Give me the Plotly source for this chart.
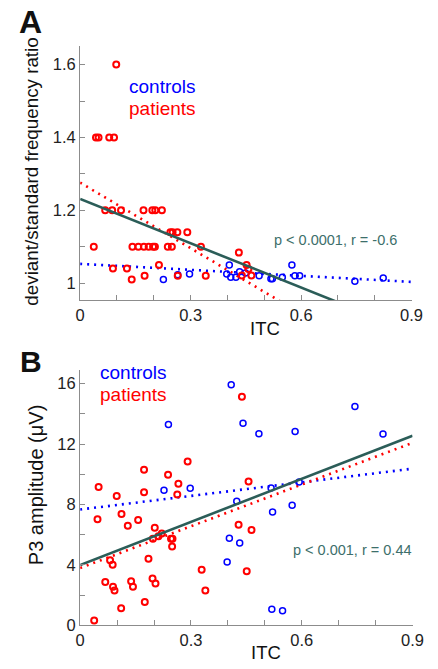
import plotly.graph_objects as go

# ---------------- Panel A data ----------------
ctrl_a_itc = [0.226, 0.265, 0.297, 0.398, 0.405, 0.409, 0.423, 0.433, 0.449, 0.486,
              0.518, 0.522, 0.549, 0.575, 0.583, 0.596, 0.746, 0.823]
ctrl_a_ratio = [1.01, 1.023, 1.025, 1.025, 1.05, 1.016, 1.016, 1.031, 1.028, 1.02,
                1.012, 1.012, 1.016, 1.05, 1.02, 1.02, 1.005, 1.014]

pat_a_itc = [0.098,
             0.043, 0.050, 0.079, 0.092,
             0.068, 0.087, 0.111, 0.172, 0.196, 0.204, 0.222,
             0.245, 0.251, 0.264, 0.291,
             0.037, 0.142, 0.158, 0.173, 0.186, 0.198, 0.203, 0.238, 0.249, 0.328,
             0.089, 0.127, 0.140, 0.175, 0.214, 0.265, 0.341, 0.431, 0.452, 0.457,
             0.439, 0.465]
pat_a_ratio = [1.6,
               1.4, 1.4, 1.4, 1.4,
               1.2, 1.2, 1.2, 1.2, 1.2, 1.2, 1.2,
               1.14, 1.14, 1.14, 1.14,
               1.1, 1.1, 1.1, 1.1, 1.1, 1.1, 1.1, 1.1, 1.1, 1.1,
               1.04, 1.04, 1.01, 1.02, 1.05, 1.02, 1.02, 1.084, 1.05, 1.039,
               1.021, 1.021]

# fit lines (intercept, slope) for panel A
fit_a_all = [1.231, -0.405]
fit_a_pat = [1.276, -0.60]
fit_a_ctrl = [1.053, -0.055]

# ---------------- Panel B data ----------------
ctrl_b_itc = [0.409, 0.239, 0.441, 0.227, 0.298, 0.424, 0.404, 0.432, 0.398, 0.744,
              0.484, 0.582, 0.820, 0.593, 0.517, 0.521, 0.574, 0.519, 0.548]
ctrl_b_p3 = [15.93, 13.29, 13.38, 8.94, 9.07, 8.22, 5.77, 5.46, 4.2, 14.49,
             12.68, 12.83, 12.66, 9.49, 9.1, 7.5, 7.95, 1.07, 0.98]

pat_b_itc = [0.438, 0.291, 0.173, 0.238, 0.456, 0.266, 0.050, 0.173, 0.263, 0.099,
             0.112, 0.047, 0.157, 0.129, 0.202, 0.429, 0.464, 0.221, 0.212, 0.197,
             0.246, 0.250, 0.249, 0.081, 0.088, 0.185, 0.329, 0.451, 0.068, 0.089,
             0.093, 0.138, 0.143, 0.196, 0.204, 0.339, 0.175, 0.111, 0.038]
pat_b_p3 = [15.13, 10.84, 10.3, 9.97, 9.53, 9.38, 9.16, 8.81, 8.66, 8.57,
            7.37, 7.02, 6.97, 6.6, 6.47, 6.67, 6.32, 6.08, 5.9, 5.73,
            5.73, 5.73, 5.23, 4.31, 4.02, 4.41, 3.69, 3.59, 2.87, 2.56,
            2.32, 2.93, 2.56, 3.1, 2.78, 2.32, 1.55, 1.14, 0.33]

fit_b_all = [4.0, 9.5]
fit_b_pat = [3.8, 9.2]
fit_b_ctrl = [7.67, 3.0]

x_ticks = [0, 0.3, 0.6, 0.9]
x_ticktext = ["0", "0.3", "0.6", "0.9"]
ya_ticks = [1.0, 1.2, 1.4, 1.6]
ya_ticktext = ["1", "1.2", "1.4", "1.6"]
yb_ticks = [0, 4, 8, 12, 16]
yb_ticktext = ["0", "4", "8", "12", "16"]

stat_a = "p < 0.0001, r = -0.6"
stat_b = "p < 0.001, r = 0.44"

RED = "#ff0000"
BLUE = "#0000ff"
GREEN = "#2b5d58"
TEXTGREEN = "#3d6f6b"
FONT = "Liberation Sans, Arial, sans-serif"

fit_x = [0.0, 0.9]


def line_y(coef):
    return [coef[0] + coef[1] * x for x in fit_x]


fig = go.Figure()


def add_panel(xa, ya, c_x, c_y, p_x, p_y, f_all, f_pat, f_ctrl):
    fig.add_trace(go.Scatter(x=fit_x, y=line_y(f_ctrl), mode="lines", xaxis=xa, yaxis=ya,
                             line=dict(color=BLUE, width=2.6, dash="2px,5px"), showlegend=False))
    fig.add_trace(go.Scatter(x=fit_x, y=line_y(f_pat), mode="lines", xaxis=xa, yaxis=ya,
                             line=dict(color=RED, width=2.6, dash="2px,5px"), showlegend=False))
    fig.add_trace(go.Scatter(x=c_x, y=c_y, mode="markers", xaxis=xa, yaxis=ya,
                             marker=dict(symbol="circle-open", size=6, color=BLUE,
                                         line=dict(width=1.5, color=BLUE)),
                             showlegend=False, cliponaxis=False))
    fig.add_trace(go.Scatter(x=p_x, y=p_y, mode="markers", xaxis=xa, yaxis=ya,
                             marker=dict(symbol="circle-open", size=6, color=RED,
                                         line=dict(width=2, color=RED)),
                             showlegend=False, cliponaxis=False))
    fig.add_trace(go.Scatter(x=fit_x, y=line_y(f_all), mode="lines", xaxis=xa, yaxis=ya,
                             line=dict(color=GREEN, width=2.6), showlegend=False))


add_panel("x", "y", ctrl_a_itc, ctrl_a_ratio, pat_a_itc, pat_a_ratio,
          fit_a_all, fit_a_pat, fit_a_ctrl)
add_panel("x2", "y2", ctrl_b_itc, ctrl_b_p3, pat_b_itc, pat_b_p3,
          fit_b_all, fit_b_pat, fit_b_ctrl)

W, H = 438, 669


def px_x(p):
    return p / W


def px_y(p):
    return 1 - p / H


axis_common = dict(showgrid=False, zeroline=False, showline=True, linecolor="#8c8c8c",
                   linewidth=1.3, ticks="inside", ticklen=5, tickcolor="#8c8c8c",
                   tickfont=dict(family=FONT, size=16.5, color="#222"), mirror=False)

fig.update_layout(
    width=W, height=H, margin=dict(l=0, r=0, t=0, b=0),
    plot_bgcolor="white", paper_bgcolor="white",
    xaxis=dict(domain=[px_x(78), px_x(422)], range=[0, 0.9], anchor="y",
               tickvals=x_ticks, ticktext=x_ticktext,
               minor=dict(dtick=0.1, tick0=0, ticks="inside", ticklen=5, tickcolor="#8c8c8c"),
               **axis_common),
    yaxis=dict(domain=[px_y(304), px_y(47)], range=[0.954, 1.65], anchor="x",
               tickvals=ya_ticks, ticktext=ya_ticktext,
               minor=dict(dtick=0.1, tick0=1.0, ticks="inside", ticklen=5, tickcolor="#8c8c8c"),
               **axis_common),
    xaxis2=dict(domain=[px_x(78), px_x(423)], range=[0, 0.9], anchor="y2",
                tickvals=x_ticks, ticktext=x_ticktext,
                minor=dict(dtick=0.1, tick0=0, ticks="inside", ticklen=5, tickcolor="#8c8c8c"),
                **axis_common),
    yaxis2=dict(domain=[px_y(634), px_y(375)], range=[0, 16.9], anchor="x2",
                tickvals=yb_ticks, ticktext=yb_ticktext,
                minor=dict(dtick=2, tick0=0, ticks="inside", ticklen=5, tickcolor="#8c8c8c"),
                **axis_common),
)


def ann(text, x, y, size, color="#111", angle=0, bold=False, xanchor="center"):
    fig.add_annotation(text=("<b>%s</b>" % text) if bold else text,
                       x=px_x(x), y=px_y(y), xref="paper", yref="paper",
                       showarrow=False, textangle=angle, xanchor=xanchor, yanchor="middle",
                       font=dict(family=FONT, size=size, color=color))


ann("A", 26, 22, 32, bold=True)
ann("B", 27, 366, 30, bold=True)
ann("deviant/standard frequency ratio", 28, 174, 18.8, angle=-90)
ann("P3 amplitude (μV)", 33, 492, 20, angle=-90)
ann("ITC", 270, 333, 18.5)
ann("ITC", 271, 661, 18.5)
ann("controls", 127, 88, 19, color=BLUE, xanchor="left")
ann("patients", 127, 110, 19, color=RED, xanchor="left")
ann("controls", 97, 378, 19, color=BLUE, xanchor="left")
ann("patients", 97, 400, 19, color=RED, xanchor="left")
ann(stat_a, 343, 243, 14.5, color=TEXTGREEN)
ann(stat_b, 361, 558, 14.5, color=TEXTGREEN)

fig.write_html("out.html")
